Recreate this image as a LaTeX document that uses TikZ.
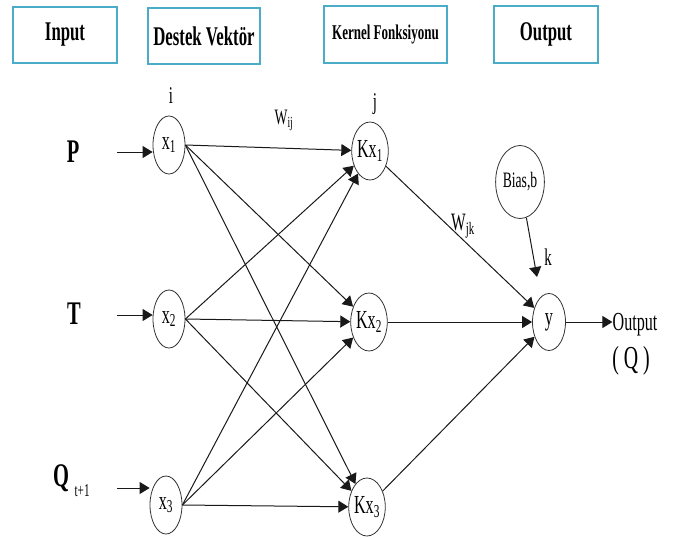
\documentclass[tikz,border=0pt]{standalone}
\usepackage{fontspec}
\setmainfont{Liberation Serif}
\newfontfamily\nf[FakeStretch=0.62]{Liberation Serif}
\usetikzlibrary{shapes.geometric,arrows.meta}
\definecolor{boxc}{RGB}{74,172,198}
\newcommand\fs[1]{\fontsize{#1}{#1}\selectfont}
\begin{document}
\begin{tikzpicture}[x=1pt,y=-1pt,
  hbox/.style={draw=boxc,line width=2.2pt,inner sep=0pt,font=\nf\bfseries},
  neuron/.style={ellipse,draw=black!80,line width=0.8pt,inner sep=0pt,
    minimum width=32pt,minimum height=58pt,fill=white,font=\nf\fs{26}},
  lbl/.style={inner sep=0pt,font=\nf\fs{24}},
  arr/.style={-{Triangle[length=10pt,width=12pt]},line width=1pt,black!90}]
\useasboundingbox (0,0) rectangle (680,538);
% header boxes
\node[hbox,minimum width=104pt,minimum height=56pt] (hin) at (65,35) {\fs{27}Input};
\node[hbox,minimum width=112pt,minimum height=56pt] (hsv) at (204,36) {\fs{27}Destek Vektör};
\node[hbox,minimum width=123pt,minimum height=57pt] (hkf) at (385.5,34.5) {\fs{21}Kernel Fonksiyonu};
\node[hbox,minimum width=104pt,minimum height=57pt] (hout) at (546,34.5) {\fs{27}Output};
% neurons
\node[neuron] (x1) at (169,145) {x\textsubscript{1}};
\node[neuron] (x2) at (169,319) {x\textsubscript{2}};
\node[neuron] (x3) at (166,505) {x\textsubscript{3}};
\node[neuron] (Kx1) at (370,151) {Kx\textsubscript{1}};
\node[neuron] (Kx2) at (369,322) {Kx\textsubscript{2}};
\node[neuron] (Kx3) at (367,507) {Kx\textsubscript{3}};
\node[neuron,minimum width=43pt,minimum height=73pt,font=\nf\fs{22}] (bias) at (520,182) {Bias,b};
\node[neuron,minimum width=33pt,minimum height=57pt] (y) at (549,322) {y};
% input labels
\node[lbl,font=\nf\bfseries\fs{33}] (lp) at (73,152) {P};
\node[lbl,font=\nf\bfseries\fs{33}] (lt) at (74,314) {T};
\node[lbl,font=\nf\bfseries\fs{33},anchor=base west] (lq) at (53,486) {Q\,\raisebox{-10pt}{\fs{18}\mdseries t+1}};
% other labels
\node[lbl] (li) at (171,96) {i};
\node[lbl] (lj) at (375,104) {j};
\node[lbl,font=\nf\fs{22}] (lwij) at (284,120) {W\textsubscript{ij}};
\node[lbl,font=\nf\fs{25}] (lwjk) at (463,226) {W\textsubscript{jk}};
\node[lbl] (lk) at (548,257) {k};
\node[lbl,font=\nf\fs{26}] (lout) at (635,325) {Output};
\node[lbl,font=\nf\fs{32}] (lq2) at (631,361) {( Q )};
% input arrows
\coordinate (pin) at (117,152);
\coordinate (tin) at (117,315);
\coordinate (qin) at (117,488);
\draw[arr] (pin) -- (pin -| x1.west);
\draw[arr] (tin) -- (tin -| x2.west);
\draw[arr] (qin) -- (qin -| x3.west);
% hidden connections
\foreach \i in {1,2,3}{
  \foreach \j in {1,2,3}{
    \draw[arr] (x\i.east) -- (Kx\j);
  }
  \draw[arr] (Kx\i) -- (y);
}
% bias
\coordinate (bend) at (537,277);
\draw[arr] (bias) -- (bend);
% output
\draw[arr] (y.east) -- (lout.west |- y.east);
\end{tikzpicture}
\end{document}
